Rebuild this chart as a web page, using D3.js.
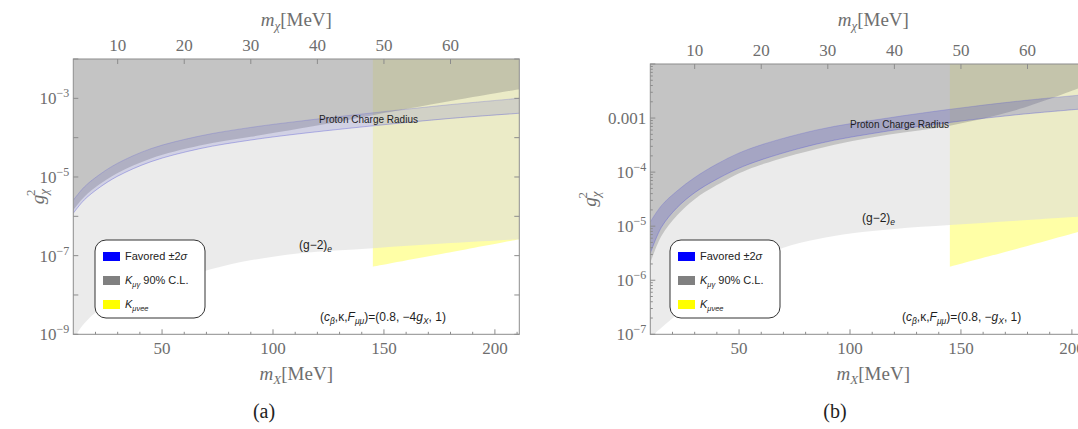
<!DOCTYPE html>
<html>
<head>
<meta charset="utf-8">
<script src="https://cdn.jsdelivr.net/npm/d3@7"></script>
<style>
  body { margin: 0; background: #fff; }
  svg { display: block; }
</style>
</head>
<body>
<svg id="fig" width="1078" height="429"></svg>
<script>
// ---------- data: panel (a), (c_β, κ, F_μμ) = (0.8, −4g_X, 1) ----------
const bandMassA  = [10, 15, 22, 30, 45, 67, 90, 112, 145, 180, 211];
const bandHighA  = [2.57e-6, 5.62e-6, 1.17e-5, 2.24e-5, 5.25e-5, 1.10e-4, 1.82e-4, 2.63e-4, 4.27e-4, 6.92e-4, 1.00e-3];
const bandLowA   = [1.20e-6, 2.63e-6, 5.50e-6, 1.05e-5, 2.45e-5, 5.25e-5, 8.71e-5, 1.26e-4, 2.00e-4, 3.09e-4, 4.17e-4];
const kmugMassA  = [10, 15, 22, 30, 45, 67, 90, 112, 130, 145, 180, 211];
const kmugLowA   = [1.45e-6, 3.16e-6, 6.61e-6, 1.26e-5, 2.95e-5, 6.31e-5, 1.05e-4, 1.70e-4, 2.57e-4, 3.72e-4, 8.51e-4, 1.70e-3];
const g2MassA    = [10, 12, 15, 20, 30, 40, 50, 70, 85, 112, 145, 180, 211];
const g2LowA     = [7.08e-10, 1.12e-9, 1.91e-9, 3.55e-9, 7.59e-9, 1.32e-8, 2.09e-8, 4.17e-8, 6.76e-8, 1.15e-7, 1.55e-7, 2.09e-7, 2.63e-7];
const kmueeMassA = [145, 178, 211];
const kmueeLowA  = [5.25e-8, 1.17e-7, 2.63e-7];

// ---------- data: panel (b), (c_β, κ, F_μμ) = (0.8, −g_X, 1) ----------
const bandMassB  = [10, 15, 22, 30, 40, 54, 85, 117, 145, 175, 205];
const bandHighB  = [1.20e-5, 2.40e-5, 4.47e-5, 7.94e-5, 1.41e-4, 2.63e-4, 6.03e-4, 1.00e-3, 1.45e-3, 2.04e-3, 2.69e-3];
const bandLowB   = [3.16e-6, 9.55e-6, 2.19e-5, 4.17e-5, 7.41e-5, 1.38e-4, 3.31e-4, 5.75e-4, 8.32e-4, 1.15e-3, 1.48e-3];
const kmugMassB  = [10, 15, 22, 30, 40, 54, 85, 117, 145, 175, 205];
const kmugLowB   = [2.09e-6, 6.61e-6, 1.58e-5, 3.16e-5, 5.75e-5, 1.12e-4, 2.69e-4, 4.90e-4, 7.24e-4, 1.41e-3, 3.80e-3];
const g2MassB    = [10, 12, 15, 22, 30, 40, 50, 60, 70, 85, 101, 120, 145, 175, 205];
const g2LowB     = [5.01e-8, 1.00e-7, 1.32e-7, 2.29e-7, 4.17e-7, 7.94e-7, 1.41e-6, 2.40e-6, 3.98e-6, 5.75e-6, 7.41e-6, 8.91e-6, 1.05e-5, 1.26e-5, 1.51e-5];
const kmueeMassB = [145, 175, 205];
const kmueeLowB  = [1.78e-6, 3.80e-6, 8.32e-6];

// ---------- axes ----------
const massDomain   = [10, 211];          // m_X [MeV]
const massTicks    = [50, 100, 150, 200];
const massMinor    = d3.range(20, 211, 10);
const chiTicks     = [10, 20, 30, 40, 50, 60]; // m_χ = m_X / 3
const yDomainA     = [1e-9, 1e-2];
const yLabelExpA   = [-9, -7, -5, -3];
const yDomainB     = [1e-7, 1e-2];
const yLabelExpB   = [-7, -6, -5, -4, -3];
const legendLabels = ["Favored", "Kμγ", "Kμνee"];

const svg = d3.select("#fig");
const SERIF = "'Liberation Serif', 'DejaVu Serif', serif";
const SANS  = "'Liberation Sans', Arial, sans-serif";
const AXIS_GREY = "#6e6e6e";

function supLabel(sel, exp, asDecimal) {
  if (asDecimal) { sel.text("0.001"); return; }
  sel.append("tspan").text("10");
  sel.append("tspan").attr("font-size", 12).attr("dy", -7).text("\u2212" + Math.abs(exp));
}

function drawPanel(p) {
  const W = 446, left = p.left, top = p.top, bottom = p.bottom, right = left + W;
  const x = d3.scaleLinear().domain(massDomain).range([left, right]);
  const xTop = d3.scaleLinear().domain(massDomain.map(v => v / 3)).range([left, right]);
  const y = d3.scaleLog().domain(p.yDomain).range([bottom, top]);

  const g = svg.append("g");
  const clipId = "clip-" + p.id;
  g.append("clipPath").attr("id", clipId)
    .append("rect").attr("x", left).attr("y", top).attr("width", W).attr("height", bottom - top);
  const plot = g.append("g").attr("clip-path", `url(#${clipId})`);

  const smooth = d3.curveCatmullRom.alpha(0.5);
  const toTop = d3.area().curve(smooth)
    .x(d => x(d[0])).y0(d => y(d[1])).y1(top - 5);
  const band = d3.area().curve(smooth)
    .x(d => x(d[0])).y0(d => y(d[1])).y1(d => y(d[2]));
  const edge = d3.line().curve(smooth).x(d => x(d[0])).y(d => y(d[1]));

  // K -> μ ν e e region (underneath the grey exclusions)
  plot.append("path").datum(d3.zip(p.kmueeMass, p.kmueeLow))
    .attr("d", toTop).attr("fill", "#ffff00").attr("fill-opacity", 0.35);
  // (g-2)_e excluded region
  plot.append("path").datum(d3.zip(p.g2Mass, p.g2Low))
    .attr("d", toTop).attr("fill", "#dedede").attr("fill-opacity", 0.6);
  // K -> μ γ 90% C.L. excluded region
  plot.append("path").datum(d3.zip(p.kmugMass, p.kmugLow))
    .attr("d", toTop).attr("fill", "#696969").attr("fill-opacity", 0.3);
  // favored ±2σ band (proton charge radius)
  const bandData = d3.zip(p.bandMass, p.bandLow, p.bandHigh);
  plot.append("path").datum(bandData)
    .attr("d", band).attr("fill", "#4848c0").attr("fill-opacity", p.bandOpacity);
  [1, 2].forEach(k => plot.append("path").datum(bandData.map(d => [d[0], d[k]]))
    .attr("d", edge).attr("fill", "none").attr("stroke", "#5a5ad8")
    .attr("stroke-opacity", k === 1 ? 0.4 : 0.25).attr("stroke-width", 1));

  // frame
  g.append("rect").attr("x", left).attr("y", top).attr("width", W).attr("height", bottom - top)
    .attr("fill", "none").attr("stroke", "#8c8c8c").attr("stroke-width", 1);

  const tickG = g.append("g").attr("stroke", "#8c8c8c").attr("stroke-width", 1);
  massTicks.forEach(v => tickG.append("line").attr("x1", x(v)).attr("x2", x(v)).attr("y1", bottom).attr("y2", bottom - 5));
  massMinor.filter(v => !massTicks.includes(v)).forEach(v =>
    tickG.append("line").attr("x1", x(v)).attr("x2", x(v)).attr("y1", bottom).attr("y2", bottom - 2.5));
  chiTicks.forEach(v => tickG.append("line").attr("x1", xTop(v)).attr("x2", xTop(v)).attr("y1", top).attr("y2", top + 5));
  const [ylo, yhi] = p.yDomain.map(Math.log10);
  for (let e = ylo; e <= yhi; e++) {
    [[left, 5], [right, -5]].forEach(([xx, l]) =>
      tickG.append("line").attr("x1", xx).attr("x2", xx + l).attr("y1", y(10 ** e)).attr("y2", y(10 ** e)));
    if (p.minor && e < yhi) {
      for (let k = 2; k <= 9; k++) {
        const v = k * 10 ** e;
        [[left, 2.5], [right, -2.5]].forEach(([xx, l]) =>
          tickG.append("line").attr("x1", xx).attr("x2", xx + l).attr("y1", y(v)).attr("y2", y(v)));
      }
    }
  }

  // tick labels
  const lab = g.append("g").attr("font-family", SERIF).attr("fill", AXIS_GREY).attr("font-size", 17);
  massTicks.forEach(v => lab.append("text").attr("x", x(v)).attr("y", bottom + 20)
    .attr("text-anchor", "middle").text(v));
  chiTicks.forEach(v => lab.append("text").attr("x", xTop(v)).attr("y", top - 8)
    .attr("text-anchor", "middle").text(v));
  p.yLabelExp.forEach(e => {
    const t = lab.append("text").attr("x", left - 4).attr("y", y(10 ** e) + 6).attr("text-anchor", "end");
    supLabel(t, e, p.decimalExp === e);
  });

  // axis titles
  const cx = left + 223;
  const tt = g.append("text").attr("x", cx).attr("y", 26).attr("text-anchor", "middle")
    .attr("font-family", SERIF).attr("font-size", 19).attr("fill", AXIS_GREY);
  tt.append("tspan").attr("font-style", "italic").text("m");
  tt.append("tspan").attr("font-style", "italic").attr("font-size", 13).attr("dy", 4).text("\u03c7");
  tt.append("tspan").attr("dy", -4).text("[MeV]");
  const bt = g.append("text").attr("x", cx).attr("y", 380).attr("text-anchor", "middle")
    .attr("font-family", SERIF).attr("font-size", 19).attr("fill", AXIS_GREY);
  bt.append("tspan").attr("font-style", "italic").text("m");
  bt.append("tspan").attr("font-style", "italic").attr("font-size", 13).attr("dy", 4).text("X");
  bt.append("tspan").attr("dy", -4).text("[MeV]");
  const yt = g.append("text").attr("transform", `translate(${p.yTitleX},${(top + bottom) / 2}) rotate(-90)`)
    .attr("text-anchor", "middle").attr("font-family", SERIF).attr("font-size", 19).attr("fill", AXIS_GREY);
  yt.append("tspan").attr("font-style", "italic").text("g");
  yt.append("tspan").attr("font-style", "italic").attr("font-size", 13).attr("dy", 4).text("\u03c7");
  yt.append("tspan").attr("font-size", 13).attr("dx", -7).attr("dy", -13).text("2");

  // sub-figure tag
  g.append("text").attr("x", p.tagX).attr("y", 418).attr("text-anchor", "middle")
    .attr("font-family", SERIF).attr("font-size", 20).attr("fill", "#222").text(p.tag);

  // annotations
  const ann = g.append("g").attr("font-family", SANS).attr("fill", "#1e1e1e");
  ann.append("text").attr("x", p.pcrX).attr("y", p.pcrY).attr("font-size", 10).text("Proton Charge Radius");
  const g2t = ann.append("text").attr("x", p.g2X).attr("y", p.g2Y).attr("font-size", 12);
  g2t.append("tspan").text("(g\u22122)");
  g2t.append("tspan").attr("font-size", 8.5).attr("font-style", "italic").attr("dy", 3).text("e");
  const pt = ann.append("text").attr("x", p.parX).attr("y", 321).attr("font-size", 12);
  pt.append("tspan").text("(");
  pt.append("tspan").attr("font-style", "italic").text("c");
  pt.append("tspan").attr("font-size", 8.5).attr("font-style", "italic").attr("dy", 3).text("\u03b2");
  pt.append("tspan").attr("dy", -3).text(",\u03ba,");
  pt.append("tspan").attr("font-style", "italic").text("F");
  pt.append("tspan").attr("font-size", 8.5).attr("font-style", "italic").attr("dy", 3).text("\u03bc\u03bc");
  pt.append("tspan").attr("dy", -3).text(")=(0.8, " + p.kappa);
  pt.append("tspan").attr("font-style", "italic").text("g");
  pt.append("tspan").attr("font-size", 8.5).attr("font-style", "italic").attr("dy", 3).text("X");
  pt.append("tspan").attr("dy", -3).text(", 1)");

  // legend
  const lg = g.append("g").attr("transform", `translate(${p.legX},240)`);
  lg.append("rect").attr("x", 0).attr("y", 0).attr("width", 110).attr("height", 78)
    .attr("rx", 11).attr("fill", "#fff").attr("stroke", "#333").attr("stroke-width", 1);
  const swatch = ["#0000ff", "#808080", "#ffff00"];
  legendLabels.forEach((name, i) => {
    const yy = 16 + i * 24;
    lg.append("rect").attr("x", 8).attr("y", yy - 4).attr("width", 17).attr("height", 9).attr("fill", swatch[i]);
    const t = lg.append("text").attr("x", 30).attr("y", yy + 4).attr("font-family", SANS)
      .attr("font-size", 11).attr("fill", "#222");
    if (i === 0) {
      t.append("tspan").text("Favored \u00b12");
      t.append("tspan").attr("font-style", "italic").text("\u03c3");
    } else {
      t.append("tspan").attr("font-style", "italic").text("K");
      t.append("tspan").attr("font-size", 7.5).attr("font-style", "italic").attr("dy", 2.5)
        .text(i === 1 ? "\u03bc\u03b3" : "\u03bc\u03bdee");
      if (i === 1) t.append("tspan").attr("dy", -2.5).text(" 90% C.L.");
    }
  });
}

drawPanel({
  id: "a", left: 73.3, top: 59, bottom: 334.3, yDomain: yDomainA, yLabelExp: yLabelExpA,
  minor: false, decimalExp: null, yTitleX: 44, tag: "(a)", tagX: 264, bandOpacity: 0.16,
  bandMass: bandMassA, bandHigh: bandHighA, bandLow: bandLowA,
  kmugMass: kmugMassA, kmugLow: kmugLowA, g2Mass: g2MassA, g2Low: g2LowA,
  kmueeMass: kmueeMassA, kmueeLow: kmueeLowA,
  pcrX: 319, pcrY: 123, g2X: 299, g2Y: 249, parX: 320, kappa: "\u22124", legX: 95
});
drawPanel({
  id: "b", left: 650.3, top: 64, bottom: 334.3, yDomain: yDomainB, yLabelExp: yLabelExpB,
  minor: true, decimalExp: -3, yTitleX: 596, tag: "(b)", tagX: 835, bandOpacity: 0.25,
  bandMass: bandMassB, bandHigh: bandHighB, bandLow: bandLowB,
  kmugMass: kmugMassB, kmugLow: kmugLowB, g2Mass: g2MassB, g2Low: g2LowB,
  kmueeMass: kmueeMassB, kmueeLow: kmueeLowB,
  pcrX: 850, pcrY: 128, g2X: 862, g2Y: 222, parX: 902, kappa: "\u2212", legX: 670
});
</script>
</body>
</html>
